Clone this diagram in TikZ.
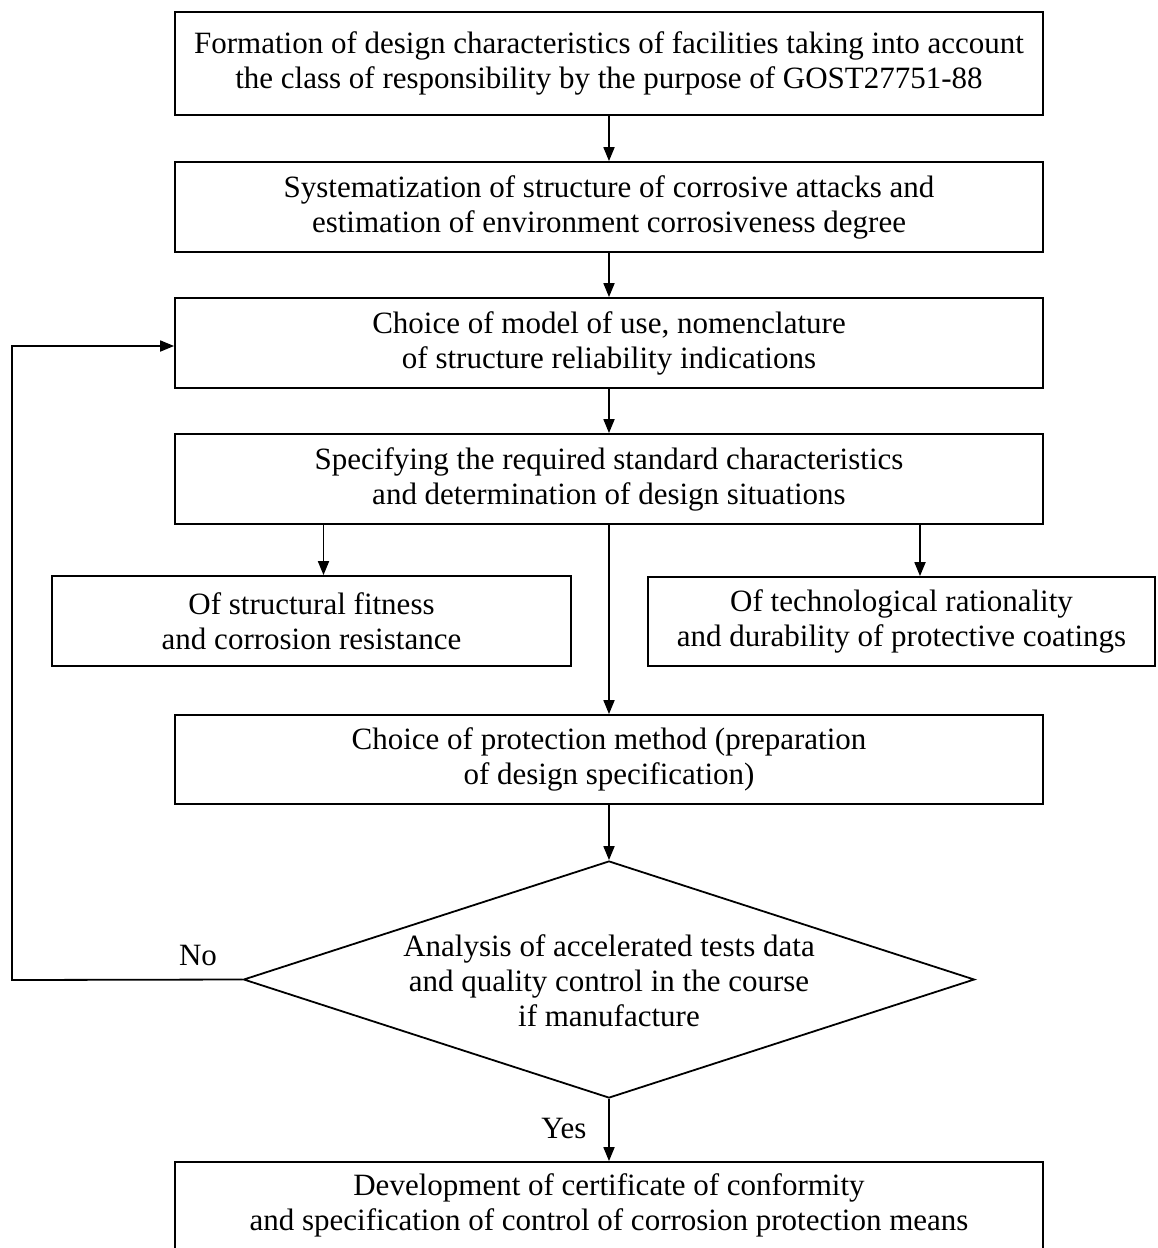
\documentclass[tikz,border=0pt]{standalone}
\usepackage{fontspec}
\setmainfont{Liberation Serif}
\usetikzlibrary{arrows.meta,shapes.geometric}
\begin{document}
\begin{tikzpicture}[x=1pt,y=-1pt,
  every node/.style={font=\fontsize{31}{35}\selectfont},
  stepbox/.style={draw, line width=1.8pt, align=center, inner sep=0pt, minimum height=90pt},
  arr/.style={line width=1.8pt, line join=miter, -{Triangle[length=14pt,width=11pt]}},
  plain/.style={line width=1.8pt}]
\useasboundingbox[fill=white] (0,0) rectangle (1158,1248);
\node[stepbox, minimum width=868pt, minimum height=103pt] (b1) at (609,63.5)
  {Formation of design characteristics of facilities taking into account\\the class of responsibility by the purpose of GOST27751-88};
\node[stepbox, minimum width=868pt] (b2) at (609,207)
  {Systematization of structure of corrosive attacks and\\estimation of environment corrosiveness degree};
\node[stepbox, minimum width=868pt] (b3) at (609,343)
  {Choice of model of use, nomenclature\\of structure reliability indications};
\node[stepbox, minimum width=868pt] (b4) at (609,479)
  {Specifying the required standard characteristics\\and determination of design situations};
\node[stepbox, minimum width=519pt] (left) at (311.5,621)
  {Of structural fitness\\and corrosion resistance};
\node[stepbox, minimum width=507pt, minimum height=89pt] (right) at (901.5,621.5)
  {Of technological rationality\\and durability of protective coatings};
\node[stepbox, minimum width=868pt, minimum height=89pt] (b5) at (609,759.5)
  {Choice of protection method (preparation\\of design specification)};
\node[diamond, draw, line width=1.8pt, minimum width=731pt, minimum height=237pt, inner sep=0pt] (dia) at (609,979.5) {};
\node[align=center, inner sep=0pt] (diatext) at (609,981)
  {Analysis of accelerated tests data\\and quality control in the course\\if manufacture};
\node[stepbox, minimum width=868pt, minimum height=110pt] (b6) at (609,1217) {};
\node[align=center, inner sep=0pt] (b6text) at (609,1205)
  {Development of certificate of conformity\\and specification of control of corrosion protection means};
\node[inner sep=0pt] (no) at (198,955) {No};
\node[inner sep=0pt] (yes) at (564,1128) {Yes};
\coordinate (fb) at (12,980);
\draw[arr] (b1) -- (b2);
\draw[arr] (b2) -- (b3);
\draw[arr] (b3) -- (b4);
\draw[arr] ([xshift=12pt]left.north |- b4.south) -- ([xshift=12pt]left.north);
\draw[arr] ([xshift=18.5pt]right.north |- b4.south) -- ([xshift=18.5pt]right.north);
\draw[arr] (b4) -- (b5);
\draw[arr] (b5) -- (dia);
\draw[arr] (dia) -- (b6);
\draw[arr] (dia.west) -- (fb) |- ([yshift=-3pt]b3.west);
\end{tikzpicture}
\end{document}
